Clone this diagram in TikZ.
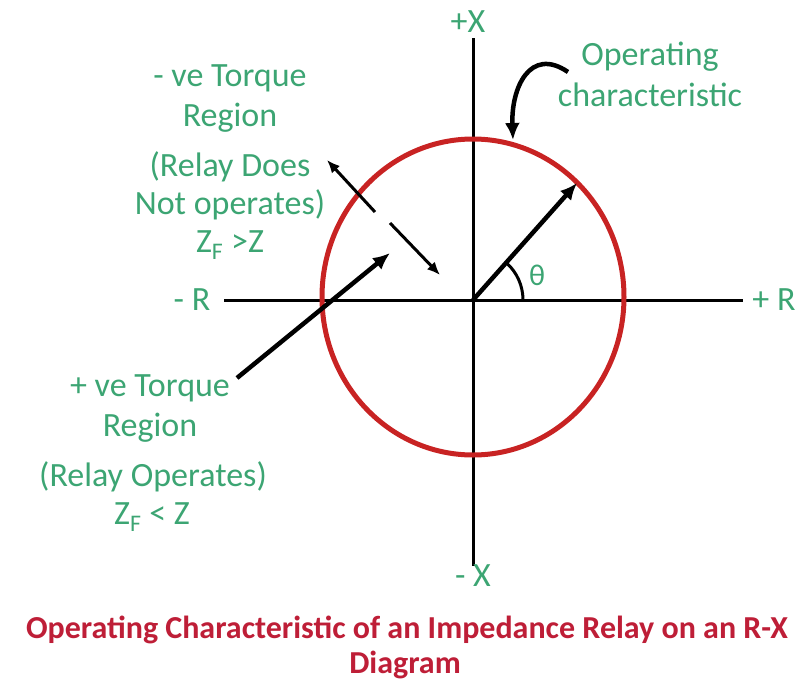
\documentclass[tikz,border=0pt]{standalone}
\usepackage{fontspec}
\setmainfont{Carlito}
\usetikzlibrary{arrows.meta}
\definecolor{lblgreen}{RGB}{60,165,115}
\definecolor{circred}{RGB}{200,35,35}
\definecolor{titlered}{RGB}{190,30,55}
\begin{document}
\begin{tikzpicture}[x=1pt,y=-1pt,
  lbl/.style={text=lblgreen, font=\fontsize{34}{40}\selectfont, inner sep=0pt, align=center},
  ttl/.style={text=titlered, font=\bfseries\fontsize{32}{36}\selectfont, inner sep=0pt},
  axis/.style={line width=3pt, black},
  arr/.style={line width=4.5pt, black, -{Latex[length=17pt,width=15pt]}},
  thinarr/.style={line width=3pt, black, -{Latex[length=13pt,width=11pt]}},
]
\useasboundingbox (0,0) rectangle (807,681);
% axes
\coordinate (O) at (473,300);
\coordinate (xt) at (473,38);
\coordinate (xb) at (473,566);
\coordinate (rl) at (224,300);
\coordinate (rr) at (743,300);
\draw[axis] (xt) -- (xb);
\draw[axis] (rl) -- (rr);
% characteristic
\draw[circred, line width=5pt] (473,297) ellipse [x radius=151, y radius=158];
% impedance vector and angle
\coordinate (Z) at (577,183);
\draw[arr] (O) -- (Z);
\draw[line width=3pt] (O) ++(0:50) arc[start angle=0, end angle=-48, radius=50];
\node[lbl, font=\fontsize{30}{34}\selectfont] (theta) at (537,275) {θ};
% axis labels
\node[lbl] (px) at (468,22) {+X};
\node[lbl] (pr) at (774,300) {+ R};
\node[lbl] (nr) at (192,300) {- R};
\node[lbl] (nx) at (473,576) {- X};
% operating characteristic
\node[lbl] (op1) at (650,57) {Operating};
\node[lbl] (op2) at (650,95) {characteristic};
\coordinate (cs) at (568,72);
\coordinate (ce) at (513,140);
\draw[arr] (cs) .. controls (530,46) and (511,88) .. (ce);
% negative torque region
\node[lbl] (n1) at (230,78) {- ve Torque};
\node[lbl] (n2) at (230,118) {Region};
\node[lbl] (n3) at (230,167) {(Relay Does};
\node[lbl] (n4) at (230,205) {Not operates)};
\node[lbl] (n5) at (230,245) {Z\textsubscript{F} >Z};
\coordinate (d1s) at (375,212);
\coordinate (d1e) at (327,160);
\coordinate (d2s) at (390,223);
\coordinate (d2e) at (440,275);
\draw[thinarr] (d1s) -- (d1e);
\draw[thinarr] (d2s) -- (d2e);
% positive torque region
\node[lbl] (p1) at (150,388) {+ ve Torque};
\node[lbl] (p2) at (150,428) {Region};
\node[lbl] (p3) at (153,477) {(Relay Operates)};
\node[lbl] (p4) at (152,517) {Z\textsubscript{F} < Z};
\coordinate (ps) at (237,378);
\coordinate (pe) at (390,253);
\draw[arr] (ps) -- (pe);
% title
\node[ttl] (t1) at (407,630) {Operating Characteristic of an Impedance Relay on an R-X};
\node[ttl] (t2) at (405,665) {Diagram};
\end{tikzpicture}
\end{document}
